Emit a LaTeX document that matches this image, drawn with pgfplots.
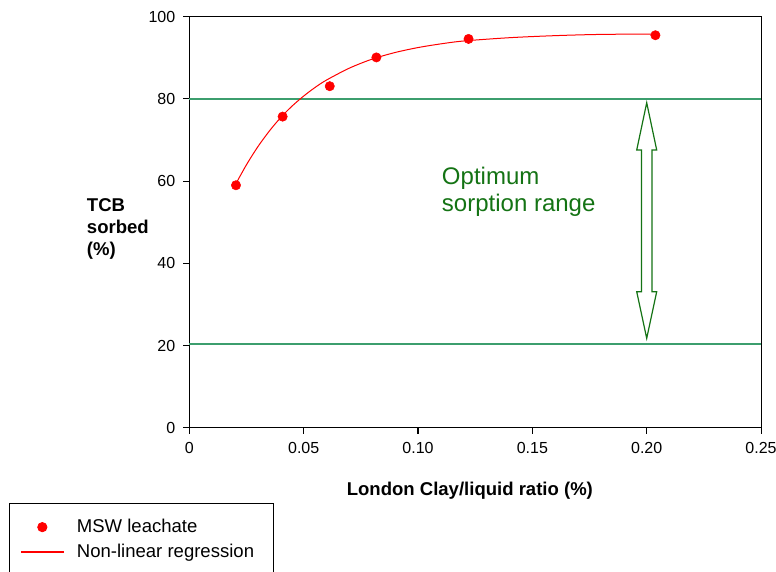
\documentclass[border=0pt]{standalone}
\usepackage{fontspec}
\setmainfont{Liberation Sans}
\usepackage{pgfplots}
\pgfplotsset{compat=1.18}
\usetikzlibrary{calc}
\definecolor{pts}{RGB}{255,0,0}
\definecolor{lim}{RGB}{60,158,110}
\definecolor{dgreen}{RGB}{20,115,20}
\begin{document}
\begin{tikzpicture}
\begin{axis}[
  scale only axis,
  width=428.8pt, height=308.25pt,
  xmin=0, xmax=0.25, ymin=0, ymax=100,
  xtick={0,0.05,0.10,0.15,0.20,0.25},
  xticklabels={0,0.05,0.10,0.15,0.20,0.25},
  ytick={0,20,40,60,80,100},
  tick align=outside,
  major tick length=4.5pt,
  xtick pos=bottom, ytick pos=left,
  axis line style={line width=0.8pt, black},
  tick style={line width=0.8pt, black},
  ticklabel style={font=\fontsize{12}{14}\selectfont},
  yticklabel style={/pgf/number format/assume math mode=true, xshift=-2.5pt},
  xticklabel style={/pgf/number format/assume math mode=true, yshift=-3pt},
  legend style={at={(-0.3154,-0.1832)}, anchor=north west, draw=black, line width=0.6pt,
    font=\fontsize{13.9}{16}\selectfont, inner xsep=8.25pt, inner ysep=10pt, row sep=3pt,
    /tikz/every odd column/.append style={column sep=7.5pt}},
  legend cell align=left,
  clip=false,
]
\coordinate (sw) at (rel axis cs:0,0);
\addplot[lim, line width=1.1pt, forget plot] coordinates {(0,80) (0.25,80)};
\addplot[lim, line width=1.1pt, forget plot] coordinates {(0,20.4) (0.25,20.4)};
\addplot[only marks, mark=*, mark size=3.5pt, color=pts, mark options={fill=pts, draw=pts},
  legend image code/.code={\draw[draw=pts, fill=pts] (16pt,0pt) circle (3.5pt);}]
  coordinates {(0.0204,59.0) (0.0408,75.7) (0.0614,83.1) (0.0818,90.1) (0.1221,94.6) (0.2038,95.5)};
\addlegendentry{MSW leachate}
\addplot[color=pts, line width=0.75pt, smooth,
  legend image code/.code={\draw[draw=pts, line width=0.9pt] (0pt,0pt) -- (32pt,0pt);}]
  coordinates {(0.020,59.0) (0.025,64.0) (0.030,68.4) (0.035,72.2) (0.040,75.5) (0.045,78.3)
   (0.050,80.7) (0.055,82.8) (0.060,84.6) (0.070,87.5) (0.080,89.7) (0.090,91.3)
   (0.100,92.5) (0.110,93.4) (0.120,94.1) (0.140,94.9) (0.160,95.4) (0.180,95.7) (0.205,95.8)};
\addlegendentry{Non-linear regression\kern4pt}
\draw[dgreen, line width=0.9pt, fill=white]
  (axis cs:0.2,79.07) -- (axis cs:0.20437,67.57) -- (axis cs:0.20231,67.57) --
  (axis cs:0.20231,33.1) -- (axis cs:0.20437,33.1) -- (axis cs:0.2,21.75) --
  (axis cs:0.19563,33.1) -- (axis cs:0.19769,33.1) -- (axis cs:0.19769,67.57) --
  (axis cs:0.19563,67.57) -- cycle;
\end{axis}
\node[anchor=north west, inner sep=0pt, align=left, font=\bfseries\fontsize{13.9}{16.5}\selectfont]
  at ($(sw)+(-76.95pt,172pt)$) {TCB\\sorbed\\(\%)};
\node[anchor=north west, inner sep=0pt, align=left, text=dgreen, font=\fontsize{18}{20.5}\selectfont]
  at ($(sw)+(189.3pt,195.75pt)$) {Optimum\\sorption range};
\node[anchor=base, inner sep=0pt, font=\bfseries\fontsize{13.9}{16}\selectfont]
  at ($(sw)+(210.4pt,-50.5pt)$) {London Clay/liquid ratio (\%)};
\pgfresetboundingbox
\path[use as bounding box] ($(sw)+(-142pt,-108.2pt)$) rectangle ($(sw)+(440pt,320.8pt)$);
\end{tikzpicture}
\end{document}
